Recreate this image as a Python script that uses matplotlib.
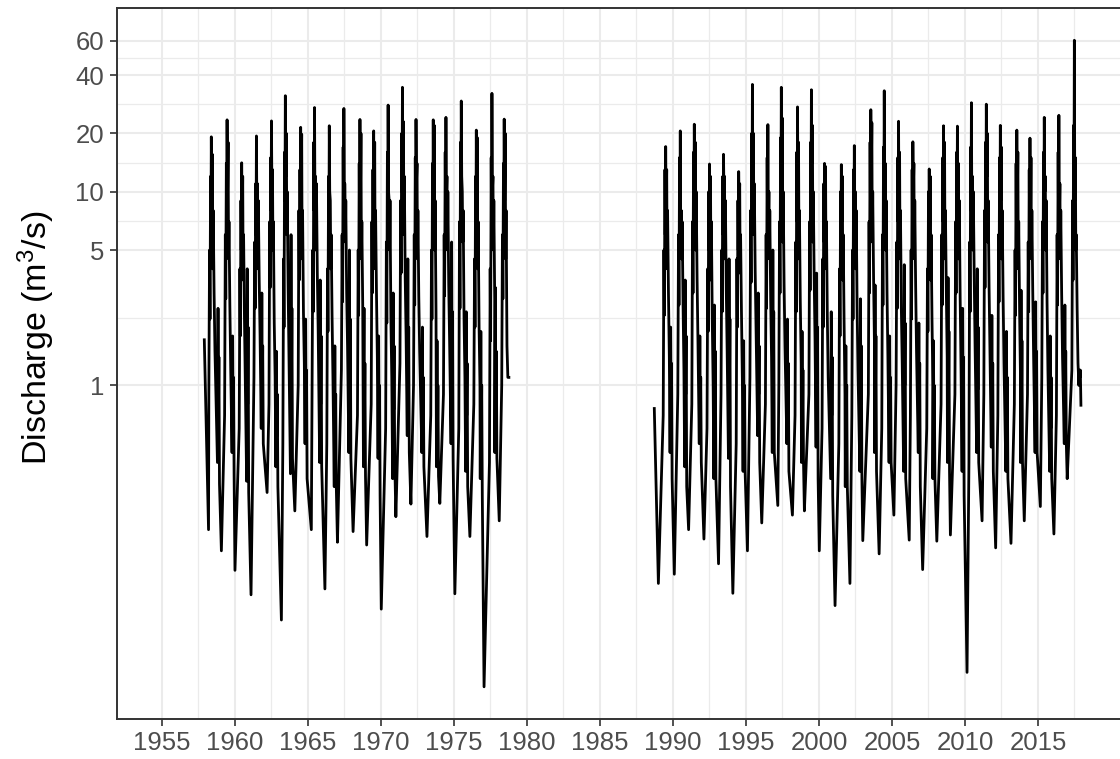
import numpy as np
import matplotlib
matplotlib.use("Agg")
import matplotlib.pyplot as plt
from matplotlib.ticker import FixedLocator, NullFormatter

plt.rcParams['font.family'] = ['Liberation Sans', 'DejaVu Sans']
plt.rcParams['mathtext.fontset'] = 'custom'
plt.rcParams['mathtext.rm'] = 'Liberation Sans'
plt.rcParams['mathtext.it'] = 'Liberation Sans'

# ---------------- data (read / estimated from the picture) ----------------
# Segment 1: 1958-1978
years1 = list(range(1958, 1979))
t_min1 = [0.19, 0.07, 0.00, 0.10, 0.20, 0.18, 0.10, 0.23, 0.16, 0.02, 0.09,
          0.02, 0.02, 0.02, 0.05, 0.15, 0.03, 0.06, 0.09, 0.06, 0.10]
q_min1 = [0.18, 0.14, 0.111, 0.083, 0.28, 0.0615, 0.225, 0.18, 0.089, 0.155, 0.176,
          0.15, 0.07, 0.21, 0.244, 0.166, 0.246, 0.084, 0.166, 0.0278, 0.20]
q_a1 = [0.9, 0.7, 0.6, 1.1, 0.8, 0.5, 1.0, 0.9, 0.5, 1.2, 0.7, 0.8, 0.6, 1.3, 1.0, 0.7, 0.9, 0.6, 0.8, 0.4, 1.0]
q_b1 = [5, 6, 4, 5.5, 7, 4.5, 8, 5, 4, 6, 5, 7, 5.5, 9, 6, 5, 6, 7, 4.5, 4, 6]
q_c1 = [2.2, 2.8, 1.8, 2.5, 3.2, 2.0, 3.5, 2.4, 1.9, 2.7, 2.3, 3.0, 2.1, 3.8, 2.6, 2.2, 2.9, 2.5, 2.0, 1.7, 2.8]
q_d1 = [12, 14, 9, 11, 15, 16, 13, 18, 12, 17, 14, 13, 16, 20, 15, 14, 16, 18, 12, 15, 14]
q_e1 = [6, 7, 5, 6, 8, 9, 7, 8, 6, 8, 7, 6, 8, 10, 7, 6, 8, 9, 6, 7, 7]
t_peak1 = [0.38, 0.46, 0.46, 0.47, 0.50, 0.45, 0.50, 0.45, 0.46, 0.46, 0.56,
           0.50, 0.49, 0.47, 0.40, 0.58, 0.45, 0.50, 0.53, 0.60, 0.44]
q_peak1 = [19.2, 23.5, 14.1, 19.4, 23.2, 31.3, 21.5, 27.2, 21.9, 26.9, 23.6,
           20.6, 28.0, 34.6, 23.6, 23.5, 24.2, 29.4, 20.8, 32.2, 23.7]
q_dip1 = [7, 9, 6, 8, 10, 12, 9, 8, 10, 11, 8, 5, 10, 9, 11, 7, 9, 12, 6, 10, 9]
q_peak2_1 = [15.6, 18, 12, 11, 13, 20, 19.8, 12, 9, 11, 20, 18, 9, 23, 14, 22, 12, 10, 19, 12, 20]
q_f1 = [4, 4.5, 3.5, 4, 5, 6, 4.5, 5, 4, 5.5, 4.5, 4, 5, 6, 4.5, 5, 5, 5.5, 4, 5, 4.5]
q_g1 = [8, 7, 6, 9, 7, 10, 8, 11, 6, 9, 7, 8, 9, 12, 8, 9, 10, 8, 7, 9, 8]
q_sum1 = [3.0, 2.6, 2.2, 3.5, 2.1, 3.2, 2.4, 3.8, 2.3, 3.0, 2.6,
          3.1, 2.2, 3.6, 2.9, 2.4, 3.3, 2.2, 2.0, 2.8, 1.6]
q_s2_1 = [1.5, 1.2, 1.0, 1.8, 1.1, 1.4, 1.3, 1.9, 1.1, 1.6, 1.2, 1.4, 1.1, 1.8, 1.5, 1.2, 1.7, 1.1, 1.0, 1.3, 1.1]
q_oct1 = [0.4, 0.45, 0.32, 0.6, 0.38, 0.35, 0.5, 0.4, 0.3, 0.45, 0.38,
          0.42, 0.33, 0.55, 0.45, 0.38, 0.5, 0.36, 0.33, 0.45, 1.1]
q_aut1 = [2.5, 1.8, 4.0, 3.0, 1.5, 6.0, 2.2, 3.5, 1.6, 5.0, 2.5,
          1.8, 3.0, 4.5, 2.0, 1.7, 5.5, 2.4, 1.9, 3.2, 1.1]
q_n1 = [0.7, 0.6, 0.8, 0.9, 0.55, 1.0, 0.65, 0.8, 0.5, 0.9, 0.7, 0.6, 0.75, 0.95, 0.6, 0.55, 1.0, 0.7, 0.55, 0.8, 1.1]
q_aut2_1 = [1.4, 1.1, 2.0, 1.6, 0.9, 2.5, 1.2, 1.8, 0.9, 2.2, 1.3, 1.0, 1.6, 2.0, 1.1, 1.0, 2.4, 1.3, 1.0, 1.5, 1.1]
q_dec1 = [0.31, 0.35, 0.28, 0.5, 0.3, 0.42, 0.33, 0.38, 0.3, 0.42, 0.34,
          0.27, 0.42, 0.45, 0.38, 0.34, 0.42, 0.3, 0.27, 0.42, 1.1]
start1_t, start1_q = 1957.90, 1.72
end1_t = 1978.76

# Segment 2: 1989-2017
years2 = list(range(1989, 2018))
t_min2 = [0.00, 0.09, 0.07, 0.12, 0.12, 0.10, 0.10, 0.08, 0.18, 0.18, 0.00,
          0.02, 0.10, 0.12, 0.00, 0.12, 0.13, 0.18, 0.10, 0.07, 0.00, 0.14,
          0.17, 0.10, 0.15, 0.06, 0.16, 0.09, 0.00]
q_min2 = [0.095, 0.106, 0.18, 0.161, 0.12, 0.0845, 0.14, 0.195, 0.24, 0.214, 0.225,
          0.14, 0.073, 0.095, 0.158, 0.135, 0.214, 0.159, 0.112, 0.157, 0.169, 0.033,
          0.20, 0.145, 0.153, 0.20, 0.237, 0.171, 0.33]
q_a2 = [0.7, 0.9, 0.8, 0.6, 0.9, 0.5, 1.1, 0.8, 1.0, 0.7, 0.9, 0.6, 0.5, 0.7, 0.9,
        0.6, 1.0, 0.7, 0.6, 0.8, 0.9, 0.4, 0.9, 0.7, 0.8, 0.9, 1.1, 0.7, 1.2]
q_b2 = [5, 6, 7, 4, 5, 4.5, 8, 6, 7, 5.5, 7, 4.5, 4, 5, 7, 6, 5.5, 5, 4, 6, 7, 5.5, 8, 6, 5, 5.5, 7, 6, 9]
q_c2 = [2.3, 2.6, 3.0, 1.9, 2.4, 2.0, 3.4, 2.5, 3.0, 2.4, 3.1, 2.0, 1.8, 2.2, 3.0,
        2.6, 2.5, 2.2, 1.9, 2.6, 3.0, 2.4, 3.2, 2.7, 2.3, 2.4, 3.0, 2.6, 3.5]
q_d2 = [13, 15, 16, 10, 12, 9, 20, 15, 19, 16, 18, 11, 10, 13, 18, 17, 15, 13, 10, 15,
        16, 17, 18, 15, 14, 13, 16, 16, 22]
q_e2 = [6, 7, 8, 5, 6, 5, 9, 7, 9, 7, 8, 5.5, 5, 6, 8, 8, 7, 6, 5, 7, 7, 8, 8, 7, 6, 6, 7, 7, 10]
t_peak2 = [0.50, 0.50, 0.46, 0.50, 0.46, 0.50, 0.44, 0.50, 0.42, 0.53, 0.48,
           0.38, 0.53, 0.42, 0.55, 0.47, 0.45, 0.43, 0.55, 0.53, 0.48, 0.44,
           0.46, 0.42, 0.55, 0.45, 0.43, 0.43, 0.49]
q_peak2 = [17.1, 20.6, 22.3, 13.9, 15.6, 12.7, 35.8, 22.2, 34.6, 27.4, 33.6,
           14.0, 13.8, 17.3, 26.5, 33.2, 23.1, 18.1, 13.1, 21.9, 21.8, 28.8,
           28.3, 22.0, 20.8, 18.9, 24.2, 24.8, 60.5]
q_dip2 = [8, 6, 9, 7, 10, 8, 12, 6, 10, 9, 14, 8, 7, 6, 11, 9, 7, 10, 6, 9, 8, 7, 12, 9, 8, 6, 10, 7, 9]
q_peak2_2 = [13, 8, 18, 12, 12, 11, 20, 10, 24, 18, 22, 13.5, 12, 10, 22.7, 14, 16, 14, 12,
             18, 14, 12, 20, 17, 16, 15, 12, 11, 15]
q_f2 = [4, 4.5, 5, 3.5, 4.5, 3.8, 6, 4.5, 5.5, 4.5, 5.5, 4, 3.5, 4, 5.5, 5, 4.5, 4.5,
        3.5, 4.5, 4.5, 5, 5.5, 4.5, 4, 4.5, 5, 4.5, 5]
q_g2 = [8, 7, 10, 7, 9, 6, 11, 8, 10, 8, 10, 7, 6, 8, 10, 9, 8, 9, 6, 8, 9, 10, 9, 8, 7, 8, 9, 8, 6]
q_sum2 = [3.0, 2.6, 3.6, 2.2, 3.1, 2.4, 3.9, 2.8, 3.3, 2.7, 3.6,
          2.3, 2.1, 2.6, 3.5, 3.0, 2.5, 3.3, 2.2, 3.1, 2.8, 3.7,
          3.2, 2.9, 2.4, 3.1, 2.7, 3.0, 2.5]
q_s2_2 = [1.4, 1.2, 1.7, 1.0, 1.5, 1.1, 1.9, 1.4, 1.6, 1.3, 1.7, 1.1, 0.9, 1.2, 1.6,
          1.4, 1.3, 1.5, 1.0, 1.4, 1.2, 1.6, 1.5, 1.3, 1.1, 1.4, 1.2, 1.4, 1.3]
q_oct2 = [0.45, 0.38, 0.5, 0.33, 0.42, 0.36, 0.55, 0.45, 0.5, 0.4, 0.48,
          0.33, 0.3, 0.36, 0.45, 0.4, 0.36, 0.45, 0.33, 0.4, 0.36, 0.45,
          0.48, 0.36, 0.4, 0.45, 0.36, 0.5, 1.0]
q_aut2 = [2.0, 3.5, 1.8, 2.6, 4.5, 1.7, 3.0, 5.0, 2.2, 1.9, 3.8,
          2.4, 1.6, 2.8, 3.3, 1.8, 4.2, 2.1, 1.7, 3.6, 2.5, 4.0,
          2.3, 1.9, 3.1, 2.7, 1.8, 2.6, 1.2]
q_n2 = [0.8, 0.9, 0.7, 0.75, 1.0, 0.6, 0.9, 1.1, 0.7, 0.65, 0.95, 0.7, 0.55, 0.8, 0.85,
        0.6, 1.0, 0.7, 0.6, 0.9, 0.75, 0.95, 0.7, 0.65, 0.8, 0.75, 0.6, 0.8, 1.1]
q_aut2_2 = [1.3, 1.8, 1.1, 1.5, 2.2, 1.0, 1.6, 2.4, 1.3, 1.2, 2.0, 1.4, 1.0, 1.6, 1.8,
            1.1, 2.1, 1.3, 1.0, 1.9, 1.4, 2.0, 1.3, 1.1, 1.7, 1.5, 1.1, 1.5, 1.2]
q_dec2 = [0.33, 0.3, 0.4, 0.33, 0.3, 0.36, 0.4, 0.45, 0.36, 0.4, 0.33,
          0.27, 0.3, 0.33, 0.36, 0.4, 0.33, 0.3, 0.33, 0.36, 0.27, 0.4,
          0.36, 0.33, 0.4, 0.45, 0.33, 0.5, 0.79]
start2_t, start2_q = 1988.72, 0.76
end2_t = 2017.94

ytick_vals = [1, 5, 10, 20, 40, 60]
xtick_vals = list(range(1955, 2020, 5))


def build(d, t0, q0, tend):
    t = [t0]
    q = [q0]
    for i, y in enumerate(d['years']):
        tp = d['tpk'][i]
        pts = [(y + d['tmin'][i], d['qmin'][i]),
               (y + tp - 0.17, d['qa'][i]),
               (y + tp - 0.12, d['qb'][i]),
               (y + tp - 0.09, d['qc'][i]),
               (y + tp - 0.05, d['qd'][i]),
               (y + tp - 0.025, d['qe'][i]),
               (y + tp, d['qpk'][i]),
               (y + tp + 0.03, d['qdip'][i]),
               (y + tp + 0.07, d['qpk2'][i]),
               (y + tp + 0.10, d['qf'][i]),
               (y + tp + 0.13, d['qg'][i]),
               (y + tp + 0.19, d['qsum'][i]),
               (y + tp + 0.25, d['qs2'][i]),
               (y + 0.80, d['qoct'][i]),
               (y + 0.84, d['qaut'][i]),
               (y + 0.87, d['qn'][i]),
               (y + 0.90, d['qaut2'][i]),
               (y + 0.94, d['qdec'][i])]
        pts.sort(key=lambda p: p[0])
        for tt_, qq in pts:
            if tt_ <= tend + 1e-9:
                t.append(tt_)
                q.append(qq)
    if t[-1] < tend - 1e-9:
        t.append(tend)
        q.append(q[-1])
    return t, q


seg1 = dict(years=years1, tmin=t_min1, qmin=q_min1, qa=q_a1, qb=q_b1, qc=q_c1, qd=q_d1,
            qe=q_e1, tpk=t_peak1, qpk=q_peak1, qdip=q_dip1, qpk2=q_peak2_1, qf=q_f1,
            qg=q_g1, qsum=q_sum1, qs2=q_s2_1, qoct=q_oct1, qaut=q_aut1, qn=q_n1,
            qaut2=q_aut2_1, qdec=q_dec1)
seg2 = dict(years=years2, tmin=t_min2, qmin=q_min2, qa=q_a2, qb=q_b2, qc=q_c2, qd=q_d2,
            qe=q_e2, tpk=t_peak2, qpk=q_peak2, qdip=q_dip2, qpk2=q_peak2_2, qf=q_f2,
            qg=q_g2, qsum=q_sum2, qs2=q_s2_2, qoct=q_oct2, qaut=q_aut2, qn=q_n2,
            qaut2=q_aut2_2, qdec=q_dec2)

t1, v1 = build(seg1, start1_t, start1_q, end1_t)
t2, v2 = build(seg2, start2_t, start2_q, end2_t)

tt = np.array(t1 + [np.nan] + t2)
vv = np.array(v1 + [np.nan] + v2)

# ---------------- figure ----------------
W, H = 1120, 759
fig = plt.figure(figsize=(W / 100, H / 100), dpi=100)
left_px, right_px, top_px, bot_px = 116.7, 1123, 8, 719
ax = fig.add_axes([left_px / W, 1 - bot_px / H, (right_px - left_px) / W, (bot_px - top_px) / H])

ax.set_yscale('log')
ax.set_xlim(1951.9, 1955 + (right_px - 162) / 14.6)
ax.set_ylim(0.01896, 88.8)

grid_c = '#EBEBEB'
ax.set_axisbelow(True)
ax.xaxis.set_major_locator(FixedLocator(xtick_vals))
ax.xaxis.set_minor_locator(FixedLocator([x + 2.5 for x in xtick_vals]))
ax.yaxis.set_major_locator(FixedLocator(ytick_vals))
minor_y = [np.sqrt(a * b) for a, b in zip(ytick_vals[:-1], ytick_vals[1:])]
ax.yaxis.set_minor_locator(FixedLocator(minor_y))
ax.yaxis.set_minor_formatter(NullFormatter())
ax.set_yticklabels([str(v) for v in ytick_vals])
ax.set_xticklabels([str(v) for v in xtick_vals])

ax.grid(which='major', color=grid_c, linewidth=1.5)
ax.grid(which='minor', color=grid_c, linewidth=0.9)

ax.plot(tt, vv, color='black', linewidth=2.0, solid_joinstyle='round')

for s in ax.spines.values():
    s.set_color('#333333')
    s.set_linewidth(1.4)

ax.tick_params(axis='both', which='major', length=5, width=1.2, color='#333333',
               labelsize=18.5, labelcolor='#4D4D4D', pad=4)
ax.tick_params(axis='both', which='minor', length=0)

ax.set_ylabel(r'Discharge (m$^3$/s)', fontsize=24.5, color='black')
ax.yaxis.set_label_coords((57 - left_px) / (right_px - left_px), (bot_px - 338) / (bot_px - top_px))

fig.savefig('out.png', dpi=100)
